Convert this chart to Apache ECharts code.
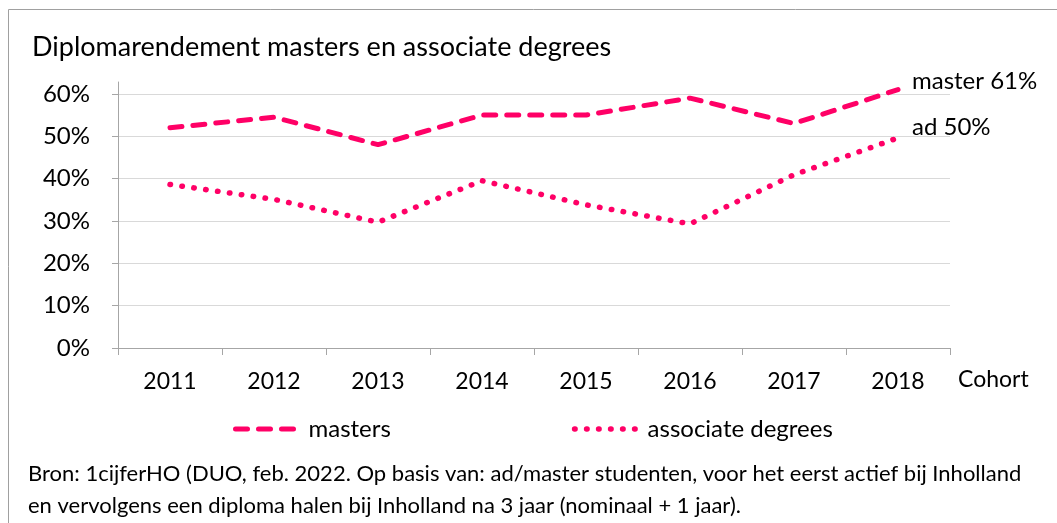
<!DOCTYPE html>
<html><head><meta charset="utf-8">
<script src="https://cdn.jsdelivr.net/npm/echarts@6/dist/echarts.min.js"></script>
<style>html,body{margin:0;padding:0;background:#fff}#c{width:1057px;height:523px}</style>
</head><body><div id="c"></div>
<script>
const categories = ['2011','2012','2013','2014','2015','2016','2017','2018'];
const masters = [52, 54.5, 48, 55, 55, 59, 53, 61];
const associate = [38.6, 35.1, 29.7, 39.5, 33.8, 29.3, 40.9, 49.6];
const yTicks = [0, 10, 20, 30, 40, 50, 60];
const FONT = 'Lato';
const PINK = '#ff0066';
const dashStyle = {color: PINK, width: 5, type: [12, 11], cap: 'round'};
const dotStyle = {color: PINK, width: 5.5, type: [0.5, 11.5], cap: 'round'};
const chart = echarts.init(document.getElementById('c'), null, {renderer: 'canvas'});
chart.setOption({
  animation: false,
  textStyle: {fontFamily: FONT},
  title: {
    text: 'Diplomarendement masters en associate degrees',
    left: 27, top: 29,
    textStyle: {fontFamily: FONT, fontSize: 27, fontWeight: 'normal', color: '#000'}
  },
  grid: {left: 118, right: 107, top: 82, bottom: 175},
  legend: {
    left: 228, top: 412, itemWidth: 68, itemHeight: 14, itemGap: 181,
    textStyle: {fontFamily: FONT, fontSize: 24, color: '#000'},
    itemStyle: {color: 'transparent', borderWidth: 0, opacity: 0},
    data: [
      {name: 'masters', lineStyle: dashStyle},
      {name: 'associate degrees', lineStyle: dotStyle}
    ]
  },
  xAxis: {
    type: 'category', data: categories, boundaryGap: true,
    axisLine: {lineStyle: {color: '#a6a6a6', width: 1}},
    axisTick: {show: true, length: 7, lineStyle: {color: '#a6a6a6'}},
    axisLabel: {fontFamily: FONT, fontSize: 23, color: '#000', margin: 22}
  },
  yAxis: {
    type: 'value', min: 0, max: 62.8, interval: 10,
    axisLine: {show: true, lineStyle: {color: '#a6a6a6', width: 1}},
    axisTick: {show: true, length: 6, lineStyle: {color: '#a6a6a6'}},
    splitLine: {show: true, showMaxLine: false, lineStyle: {color: '#d9d9d9', width: 1}},
    axisLabel: {
      fontFamily: FONT, fontSize: 24, color: '#000', margin: 28, showMaxLabel: false,
      formatter: v => yTicks.indexOf(v) >= 0 ? v + '%' : ''
    }
  },
  series: [
    {
      name: 'masters', type: 'line', data: masters, symbol: 'none',
      lineStyle: dashStyle,
      itemStyle: {color: PINK},
      endLabel: {show: true, formatter: 'master 61%', offset: [6, -8], fontFamily: FONT, fontSize: 24, color: '#000'}
    },
    {
      name: 'associate degrees', type: 'line', data: associate, symbol: 'none',
      lineStyle: dotStyle,
      itemStyle: {color: PINK},
      endLabel: {show: true, formatter: 'ad 50%', offset: [6, -11], fontFamily: FONT, fontSize: 24, color: '#000'}
    }
  ],
  graphic: [
    {type: 'rect', shape: {x: 8.5, y: 9.5, width: 1100, height: 600}, style: {fill: 'none', stroke: '#a0a0a0', lineWidth: 1}, silent: true, z: -1},
    {type: 'text', left: 958, top: 368, style: {text: 'Cohort', font: '23px ' + FONT, fill: '#000'}},
    {type: 'text', left: 28, top: 458, style: {text: 'Bron: 1cijferHO (DUO, feb. 2022. Op basis van: ad/master studenten, voor het eerst actief bij Inholland\nen vervolgens een diploma halen bij Inholland na 3 jaar (nominaal + 1 jaar).', font: '22px ' + FONT, fill: '#000', lineHeight: 32}}
  ]
});
</script></body></html>
